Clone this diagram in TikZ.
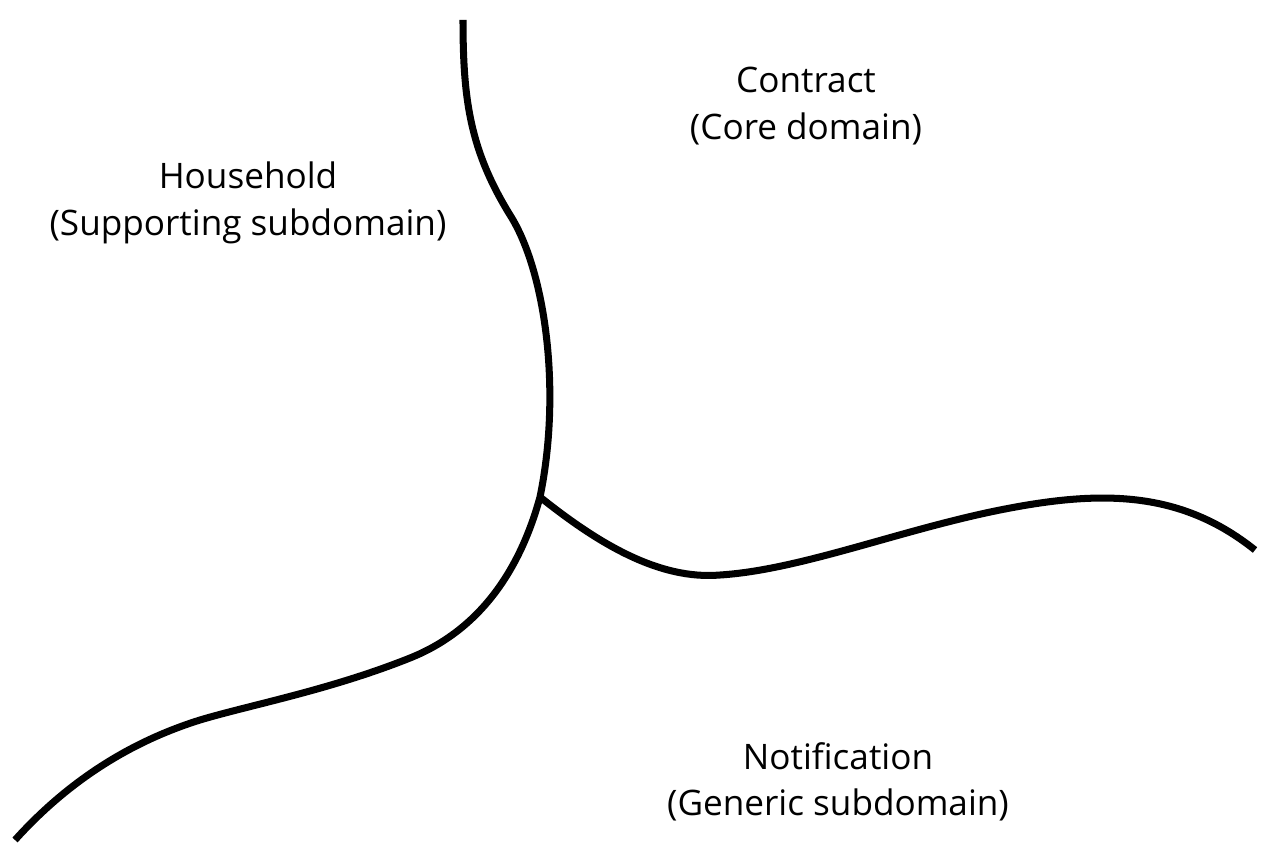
\documentclass[tikz,border=0pt]{standalone}
\usepackage{fontspec}
\setmainfont{Open Sans}
\begin{document}
\begin{tikzpicture}[x=0.02cm,y=-0.02cm]
    \tikzstyle{border}=[draw=black,line width=4pt,line cap=butt]
    \tikzstyle{label}=[font=\fontsize{20}{26.5}\selectfont,align=center]

    \useasboundingbox (0,0) rectangle (1270,861);

    \coordinate (junction) at (540,497);

    % household / contract border
    \draw [border] (463,20) .. controls (463,100) and (470,150) .. (510,215)
        .. controls (545,270) and (562,390) .. (junction)
        .. controls (520,570) and (480,630) .. (410,658)
        .. controls (330,690) and (250,705) .. (200,720)
        .. controls (120,745) and (60,790) .. (15,840);
    % contract / notification border
    \draw [border] (junction) .. controls (600,545) and (660,580) .. (720,575)
        .. controls (800,570) and (900,530) .. (1000,510)
        .. controls (1100,490) and (1180,490) .. (1255,550);

    \node[label] (contract) at (806,106) {Contract\\(Core domain)};
    \node[label] (household) at (248,203) {Household\\(Supporting subdomain)};
    \node[label] (notification) at (838,782) {Notification\\(Generic subdomain)};
\end{tikzpicture}
\end{document}
